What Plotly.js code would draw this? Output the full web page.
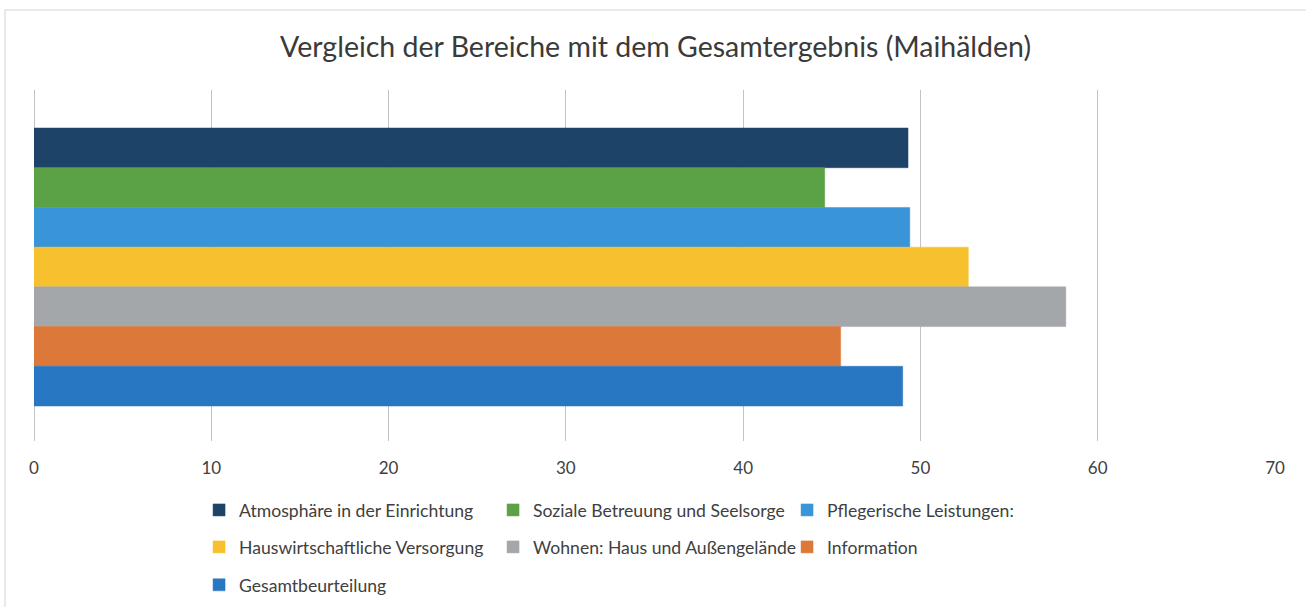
<!DOCTYPE html>
<html>
<head>
<meta charset="utf-8">
<script src="https://cdn.plot.ly/plotly-3.0.1.min.js"></script>
<style>html,body{margin:0;padding:0;background:#fff;}#chart{width:1306px;height:607px;}</style>
</head>
<body>
<div id="chart"></div>
<script>
const category = ['Maihälden'];
const seriesNames = [
  'Atmosphäre in der Einrichtung',
  'Soziale Betreuung und Seelsorge',
  'Pflegerische Leistungen:',
  'Hauswirtschaftliche Versorgung',
  'Wohnen: Haus und Außengelände',
  'Information',
  'Gesamtbeurteilung'
];
const seriesValues = [49.3, 44.6, 49.4, 52.7, 58.2, 45.5, 49.0];
const seriesColors = ['#1d4468', '#5ba145', '#3a94d8', '#f7c02e', '#a4a7aa', '#dc783a', '#2877c3'];
const legendRows = ['legend', 'legend', 'legend', 'legend2', 'legend2', 'legend2', 'legend3'];
const xTicks = [0, 10, 20, 30, 40, 50, 60, 70];

const FONT = 'Lato, "Open Sans", sans-serif';

const traces = seriesNames.map((name, i) => ({
  type: 'bar',
  orientation: 'h',
  name: name,
  y: category,
  x: [seriesValues[i]],
  marker: {color: seriesColors[i], line: {color: seriesColors[i], width: 0.5}},
  legend: legendRows[i],
  hoverinfo: 'x+name'
}));

const legendBase = {
  orientation: 'h',
  x: 0.133,
  xanchor: 'left',
  yanchor: 'middle',
  entrywidth: 249,
  entrywidthmode: 'pixels',
  font: {family: FONT, size: 17.6, color: '#404040'},
  bgcolor: 'rgba(0,0,0,0)',
  traceorder: 'normal'
};

const layout = {
  width: 1306,
  height: 607,
  margin: {l: 34, r: 31, t: 90, b: 166, autoexpand: false},
  paper_bgcolor: '#ffffff',
  plot_bgcolor: '#ffffff',
  title: {
    text: 'Vergleich der Bereiche mit dem Gesamtergebnis (Maihälden)',
    font: {family: FONT, size: 28.5, color: '#3a3a3a'},
    x: 0.502, xanchor: 'center',
    y: 0.922, yanchor: 'middle'
  },
  barmode: 'group',
  bargap: 0.208,
  bargroupgap: 0,
  xaxis: {
    range: [0, 70],
    tickvals: xTicks,
    ticktext: xTicks.map(String),
    showgrid: true,
    gridcolor: '#c2c2c8',
    gridwidth: 1,
    zeroline: true,
    zerolinecolor: '#c2c2c8',
    zerolinewidth: 1,
    showline: false,
    ticks: '',
    ticklabelstandoff: 15,
    tickfont: {family: FONT, size: 17, color: '#404040'},
    fixedrange: true
  },
  yaxis: {
    range: [0.4957, -0.5043],
    showticklabels: false,
    showgrid: false,
    zeroline: false,
    ticks: '',
    fixedrange: true
  },
  showlegend: true,
  legend: Object.assign({}, legendBase, {y: -0.1966}),
  legend2: Object.assign({}, legendBase, {y: -0.3019}),
  legend3: Object.assign({}, legendBase, {y: -0.4099}),
  shapes: [{
    type: 'rect', xref: 'paper', yref: 'paper',
    x0: -0.0234, x1: 1.05, y0: -0.5, y1: 1.228,
    line: {color: '#d4d4d4', width: 1},
    fillcolor: 'rgba(0,0,0,0)',
    layer: 'below'
  }]
};

Plotly.newPlot('chart', traces, layout, {displayModeBar: false, staticPlot: true});
</script>
</body>
</html>
